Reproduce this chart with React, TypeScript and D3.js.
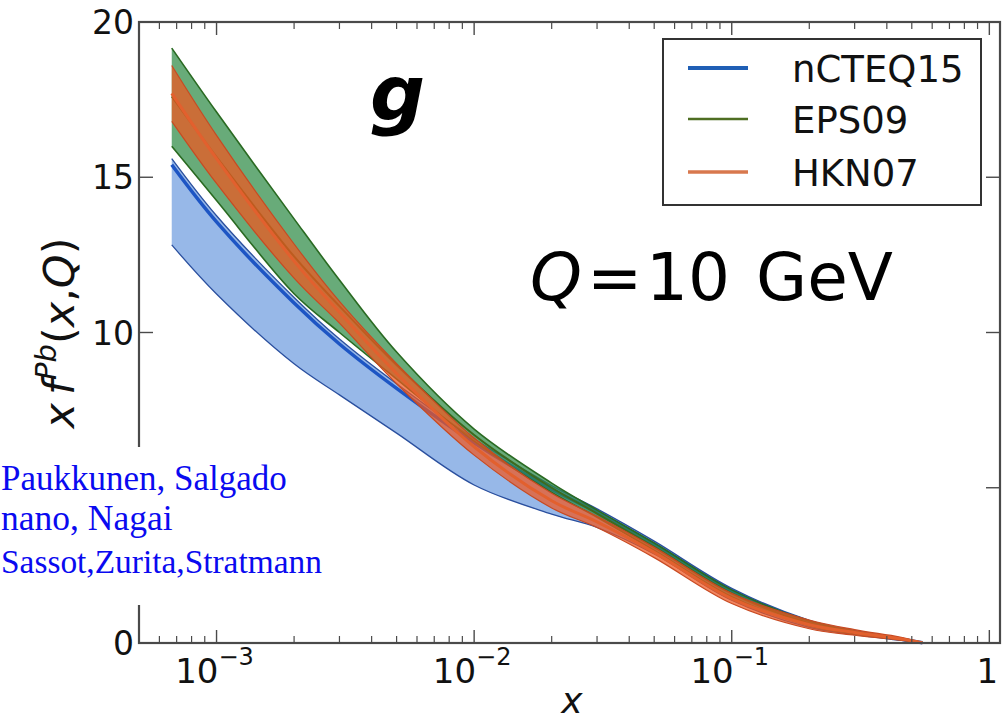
import React from "react";
import * as d3 from "d3";

// ---- data ----
const xs = [6.7e-4, 1e-3, 2e-3, 3e-3, 5e-3, 1e-2, 2e-2, 3e-2, 5e-2, 0.1, 0.2, 0.3, 0.45, 0.55];

const nCTEQ15Lower = [12.82, 11.24, 8.99, 7.99, 6.76, 5.09, 4.15, 3.72, 2.87, 1.38, 0.5, 0.27, 0.09, 0.005];
const nCTEQ15Center = [15.4, 13.56, 10.95, 9.63, 8.2, 6.45, 4.95, 4.22, 3.18, 1.68, 0.68, 0.36, 0.13, 0.01];
const nCTEQ15Upper = [15.6, 13.76, 11.13, 9.79, 8.35, 6.58, 5.07, 4.32, 3.28, 1.76, 0.73, 0.39, 0.15, 0.01];

const EPS09Lower = [16.0, 14.25, 11.25, 10.0, 8.5, 6.5, 4.85, 4.05, 2.98, 1.48, 0.56, 0.3, 0.11, 0.01];
const EPS09Center = [17.6, 15.65, 12.45, 10.85, 8.95, 6.7, 5.0, 4.17, 3.1, 1.6, 0.63, 0.34, 0.13, 0.01];
const EPS09Upper = [19.16, 17.1, 13.66, 11.69, 9.37, 6.89, 5.15, 4.28, 3.22, 1.71, 0.71, 0.38, 0.15, 0.01];

const HKN07Lower = [16.8, 14.8, 11.75, 10.3, 8.35, 6.05, 4.35, 3.72, 2.75, 1.27, 0.46, 0.25, 0.09, 0.005];
const HKN07Center = [17.7, 15.6, 12.3, 10.65, 8.68, 6.32, 4.58, 3.9, 2.92, 1.43, 0.59, 0.34, 0.14, 0.01];
const HKN07Upper = [18.6, 16.35, 12.85, 11.0, 9.0, 6.6, 4.82, 4.08, 3.08, 1.6, 0.74, 0.43, 0.19, 0.02];

const legendLabels = ["nCTEQ15", "EPS09", "HKN07"];
const yTicks = [0, 5, 10, 15, 20];
const yTickLabels = ["0", "", "10", "15", "20"]; // "5" is hidden behind the author box
const xMajorTicks = [1e-3, 1e-2, 1e-1, 1];
const xTickExponents = ["−3", "−2", "−1", ""];
const authorLines = ["Paukkunen, Salgado", "nano, Nagai", "Sassot,Zurita,Stratmann"];

const W = 1005;
const H = 722;
const M = { left: 139, right: 1000, top: 22, bottom: 643 };

export default function App() {
  const x = d3.scaleLog().domain([5e-4, 1.1]).range([M.left, M.right]);
  const y = d3.scaleLinear().domain([0, 20]).range([M.bottom, M.top]);
  const curve = d3.curveCatmullRom.alpha(0.5);
  const idx = xs.map((_, i) => i);

  const area = (lo: number[], hi: number[]) =>
    d3
      .area<number>()
      .x((d) => x(xs[d]))
      .y0((d) => y(lo[d]))
      .y1((d) => y(hi[d]))
      .curve(curve)(idx) || "";
  const line = (v: number[]) =>
    d3
      .line<number>()
      .x((d) => x(xs[d]))
      .y((d) => y(v[d]))
      .curve(curve)(idx) || "";

  const bands = [
    {
      lo: nCTEQ15Lower, hi: nCTEQ15Upper, c: nCTEQ15Center,
      fill: "#8cb0e6", fillOp: 0.9, edge: "#2a4f9e", edgeW: 1.3, line: "#1d55c4", lineW: 3.5,
    },
    {
      lo: EPS09Lower, hi: EPS09Upper, c: EPS09Center,
      fill: "#2e8a45", fillOp: 0.72, edge: "#2a6a22", edgeW: 1.6, line: "#3d6a1e", lineW: 2,
    },
    {
      lo: HKN07Lower, hi: HKN07Upper, c: HKN07Center,
      fill: "#f0561e", fillOp: 0.72, edge: "#c84a22", edgeW: 1.2, line: "#e2602e", lineW: 3,
    },
  ];

  const minorTicks: number[] = [];
  for (let e = -4; e <= 0; e++) {
    for (let k = 2; k <= 9; k++) {
      const v = k * Math.pow(10, e);
      if (v > 5e-4 && v < 1.1) minorTicks.push(v);
    }
  }

  const axisColor = "#4a4a4a";
  const font = "'DejaVu Sans', 'Bitstream Vera Sans', sans-serif";

  const legendColors = ["#1f5fb5", "#4e6e22", "#d8784e"];
  const legendWidths = [4, 2.5, 3.5];

  return (
    <svg
      width={W}
      height={H}
      style={{ position: "absolute", left: 0, top: 0, background: "#fff" }}
      fontFamily={font}
    >
      <rect x={0} y={0} width={W} height={H} fill="#fff" />

      {/* bands */}
      {bands.map((b, i) => (
        <g key={i}>
          <path d={area(b.lo, b.hi)} fill={b.fill} fillOpacity={b.fillOp} />
          <path d={line(b.hi)} fill="none" stroke={b.edge} strokeWidth={b.edgeW} />
          <path d={line(b.lo)} fill="none" stroke={b.edge} strokeWidth={b.edgeW} />
          <path d={line(b.c)} fill="none" stroke={b.line} strokeWidth={b.lineW} />
        </g>
      ))}

      {/* spines */}
      <rect
        x={M.left}
        y={M.top}
        width={M.right - M.left}
        height={M.bottom - M.top}
        fill="none"
        stroke={axisColor}
        strokeWidth={2.2}
      />

      {/* x ticks */}
      {xMajorTicks.map((t) => (
        <g key={"xM" + t}>
          <line x1={x(t)} x2={x(t)} y1={M.bottom} y2={M.bottom - 13} stroke={axisColor} strokeWidth={1.4} />
          <line x1={x(t)} x2={x(t)} y1={M.top} y2={M.top + 13} stroke={axisColor} strokeWidth={1.4} />
        </g>
      ))}
      {minorTicks.map((t) => (
        <g key={"xm" + t}>
          <line x1={x(t)} x2={x(t)} y1={M.bottom} y2={M.bottom - 7} stroke={axisColor} strokeWidth={1.2} />
          <line x1={x(t)} x2={x(t)} y1={M.top} y2={M.top + 7} stroke={axisColor} strokeWidth={1.2} />
        </g>
      ))}
      {/* y ticks */}
      {yTicks.map((t) => (
        <g key={"y" + t}>
          <line x1={M.left} x2={M.left + 14} y1={y(t)} y2={y(t)} stroke={axisColor} strokeWidth={1.4} />
          <line x1={M.right} x2={M.right - 14} y1={y(t)} y2={y(t)} stroke={axisColor} strokeWidth={1.4} />
        </g>
      ))}

      {/* y tick labels */}
      {yTicks.map((t, i) =>
        yTickLabels[i] ? (
          <text key={"yl" + t} x={134} y={y(t) + 12} textAnchor="end" fontSize={33} fill="#111">
            {yTickLabels[i]}
          </text>
        ) : null
      )}

      {/* x tick labels */}
      {xMajorTicks.map((t, i) => (
        <text key={"xl" + t} x={x(t) - 2} y={683} textAnchor="middle" fontSize={34} fill="#111">
          {t === 1 ? "1" : "10"}
          {xTickExponents[i] && (
            <tspan dy={-18} fontSize={24}>
              {xTickExponents[i]}
            </tspan>
          )}
        </text>
      ))}

      {/* axis labels */}
      <text x={572} y={713} textAnchor="middle" fontSize={36} fontStyle="italic" fill="#111">
        x
      </text>
      <text
        transform="translate(74,333) rotate(-90)"
        textAnchor="middle"
        fontSize={43}
        fill="#111"
      >
        <tspan fontStyle="italic">x</tspan>
        <tspan fontStyle="italic" dx={8}>f</tspan>
        <tspan fontStyle="italic" fontSize={29} dy={-18}>Pb</tspan>
        <tspan dy={18}>(</tspan>
        <tspan fontStyle="italic">x</tspan>
        <tspan>,</tspan>
        <tspan fontStyle="italic">Q</tspan>
        <tspan>)</tspan>
      </text>

      {/* annotations */}
      <text x={370} y={120} fontSize={77} fontStyle="italic" fontWeight="bold" fill="#000">
        g
      </text>
      <text y={300} fontSize={66} fill="#000">
        <tspan x={530} fontStyle="italic">Q</tspan>
        <tspan x={587}>=</tspan>
        <tspan x={646}>10</tspan>
        <tspan x={756}>GeV</tspan>
      </text>

      {/* legend */}
      <rect x={663} y={39} width={318} height={166} fill="#fff" stroke="#333" strokeWidth={2} />
      {legendLabels.map((l, i) => {
        const ly = [68, 119, 172][i];
        return (
          <g key={l}>
            <line x1={688} x2={748} y1={ly} y2={ly} stroke={legendColors[i]} strokeWidth={legendWidths[i]} />
            <text x={792} y={ly + 14} fontSize={37} fill="#111">
              {l}
            </text>
          </g>
        );
      })}

      {/* overlaid author box */}
      <rect x={0} y={447} width={330} height={158} fill="#fff" />
      {authorLines.map((s, i) => (
        <text
          key={s}
          x={1}
          y={[490, 530, 573][i]}
          fontSize={[35, 35.5, 33.4][i]}
          fill="#0a0af0"
          fontFamily="'Liberation Serif', 'Times New Roman', serif"
        >
          {s}
        </text>
      ))}
    </svg>
  );
}
